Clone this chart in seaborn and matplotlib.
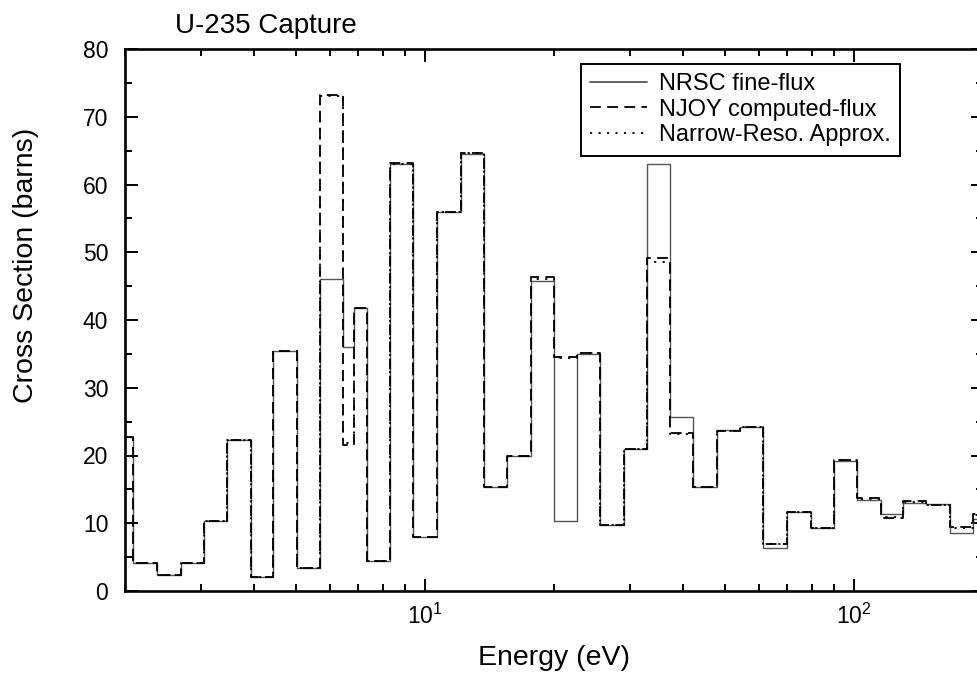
import numpy as np
import pandas as pd
import seaborn as sns
import matplotlib.pyplot as plt
from matplotlib.ticker import LogLocator, MultipleLocator, NullFormatter

# group boundaries (eV)
edges = [1.84, 2.09, 2.37, 2.70, 3.05, 3.46, 3.93, 4.42, 5.03, 5.69,
         6.44, 6.83, 7.32, 8.29, 9.38, 10.66, 12.13, 13.73, 15.53, 17.66,
         19.98, 22.61, 25.58, 29.10, 32.92, 37.25, 42.14, 47.94, 54.25, 61.38,
         69.80, 79.38, 89.82, 101.6, 115.6, 130.1, 147.2, 167.4, 189.4, 215.0]

nrsc = [22.8, 4.2, 2.3, 4.2, 10.4, 22.3, 2.1, 35.4, 3.4, 46.0,
        36.0, 41.8, 4.4, 63.0, 7.9, 56.0, 64.5, 15.3, 19.9, 45.8,
        10.3, 35.0, 9.7, 20.9, 63.0, 25.7, 15.4, 23.7, 24.2, 6.3,
        11.6, 9.3, 19.2, 13.4, 11.4, 13.0, 12.8, 8.6, 10.7]

njoy = [22.8, 4.2, 2.3, 4.2, 10.4, 22.3, 2.1, 35.4, 3.4, 73.2,
        21.5, 41.8, 4.4, 63.2, 7.9, 56.0, 64.7, 15.3, 19.9, 46.3,
        34.5, 35.2, 9.7, 20.9, 49.2, 23.3, 15.4, 23.6, 24.2, 7.0,
        11.6, 9.3, 19.3, 13.7, 10.8, 13.3, 12.7, 9.4, 11.3]

nra = [22.8, 4.2, 2.3, 4.2, 10.4, 22.3, 2.1, 35.4, 3.4, 73.0,
       21.8, 41.8, 4.4, 63.0, 7.9, 56.0, 64.6, 15.3, 19.9, 46.1,
       34.4, 35.1, 9.7, 20.9, 48.6, 23.2, 15.4, 23.6, 24.2, 7.0,
       11.6, 9.3, 19.3, 13.6, 10.9, 13.2, 12.7, 9.3, 11.2]

labels = ["NRSC fine-flux", "NJOY computed-flux", "Narrow-Reso. Approx."]

frames = []
for name, vals in zip(labels, [nrsc, njoy, nra]):
    frames.append(pd.DataFrame({
        "Energy": edges,
        "xs": vals + [vals[-1]],   # repeat last value to close the step
        "Series": name,
    }))
df = pd.concat(frames, ignore_index=True)

sns.set_style("ticks")
plt.rcParams["font.family"] = ["Liberation Sans", "DejaVu Sans"]
for key in ["text.color", "axes.labelcolor", "xtick.color", "ytick.color",
            "axes.edgecolor"]:
    plt.rcParams[key] = "black"

fig = plt.figure(figsize=(9.77, 6.75), dpi=100)
ax = fig.add_axes([125 / 977, 84 / 675, 858 / 977, 542 / 675])

sns.lineplot(
    data=df, x="Energy", y="xs", hue="Series", style="Series",
    palette={labels[0]: "#555555", labels[1]: "black", labels[2]: "black"},
    dashes={labels[0]: "", labels[1]: (6, 3.5), labels[2]: (1.2, 3.5)},
    hue_order=labels, style_order=labels,
    estimator=None, sort=False, drawstyle="steps-post", linewidth=1.3,
    ax=ax,
)
for line in ax.get_lines()[:1]:
    line.set_linewidth(1.0)

ax.set_xscale("log")
ax.set_xlim(2, 200)
ax.set_ylim(0, 80)
ax.xaxis.set_major_locator(LogLocator(base=10))
ax.xaxis.set_minor_locator(LogLocator(base=10, subs=np.arange(2, 10)))
ax.xaxis.set_minor_formatter(NullFormatter())
ax.yaxis.set_major_locator(MultipleLocator(10))
ax.yaxis.set_minor_locator(MultipleLocator(5))

for s in ax.spines.values():
    s.set_linewidth(1.9)
ax.tick_params(which="both", direction="in", top=True, right=True, width=1.4,
               labelsize=16.5)
ax.tick_params(which="major", length=9)
ax.tick_params(which="minor", length=5)
ax.tick_params(axis="y", pad=12)
ax.tick_params(axis="x", pad=9)

ax.set_xlabel("Energy (eV)", fontsize=20.5, labelpad=12)
ax.set_ylabel("Cross Section (barns)", fontsize=20.5)
ax.yaxis.set_label_coords(-0.100, 0.60)

fig.text(175 / 977, 1 - 33 / 675, "U-235 Capture", fontsize=20, va="baseline")

leg = ax.legend(
    loc="upper right", bbox_to_anchor=(900 / 977, 1 - 64 / 675),
    bbox_transform=fig.transFigure, borderaxespad=0, fontsize=17,
    handlelength=2.4, handletextpad=0.5, labelspacing=0.14, borderpad=0.4,
    fancybox=False, framealpha=1, edgecolor="black",
)
leg.get_frame().set_linewidth(1.4)

plt.savefig("out.png", dpi=100)
